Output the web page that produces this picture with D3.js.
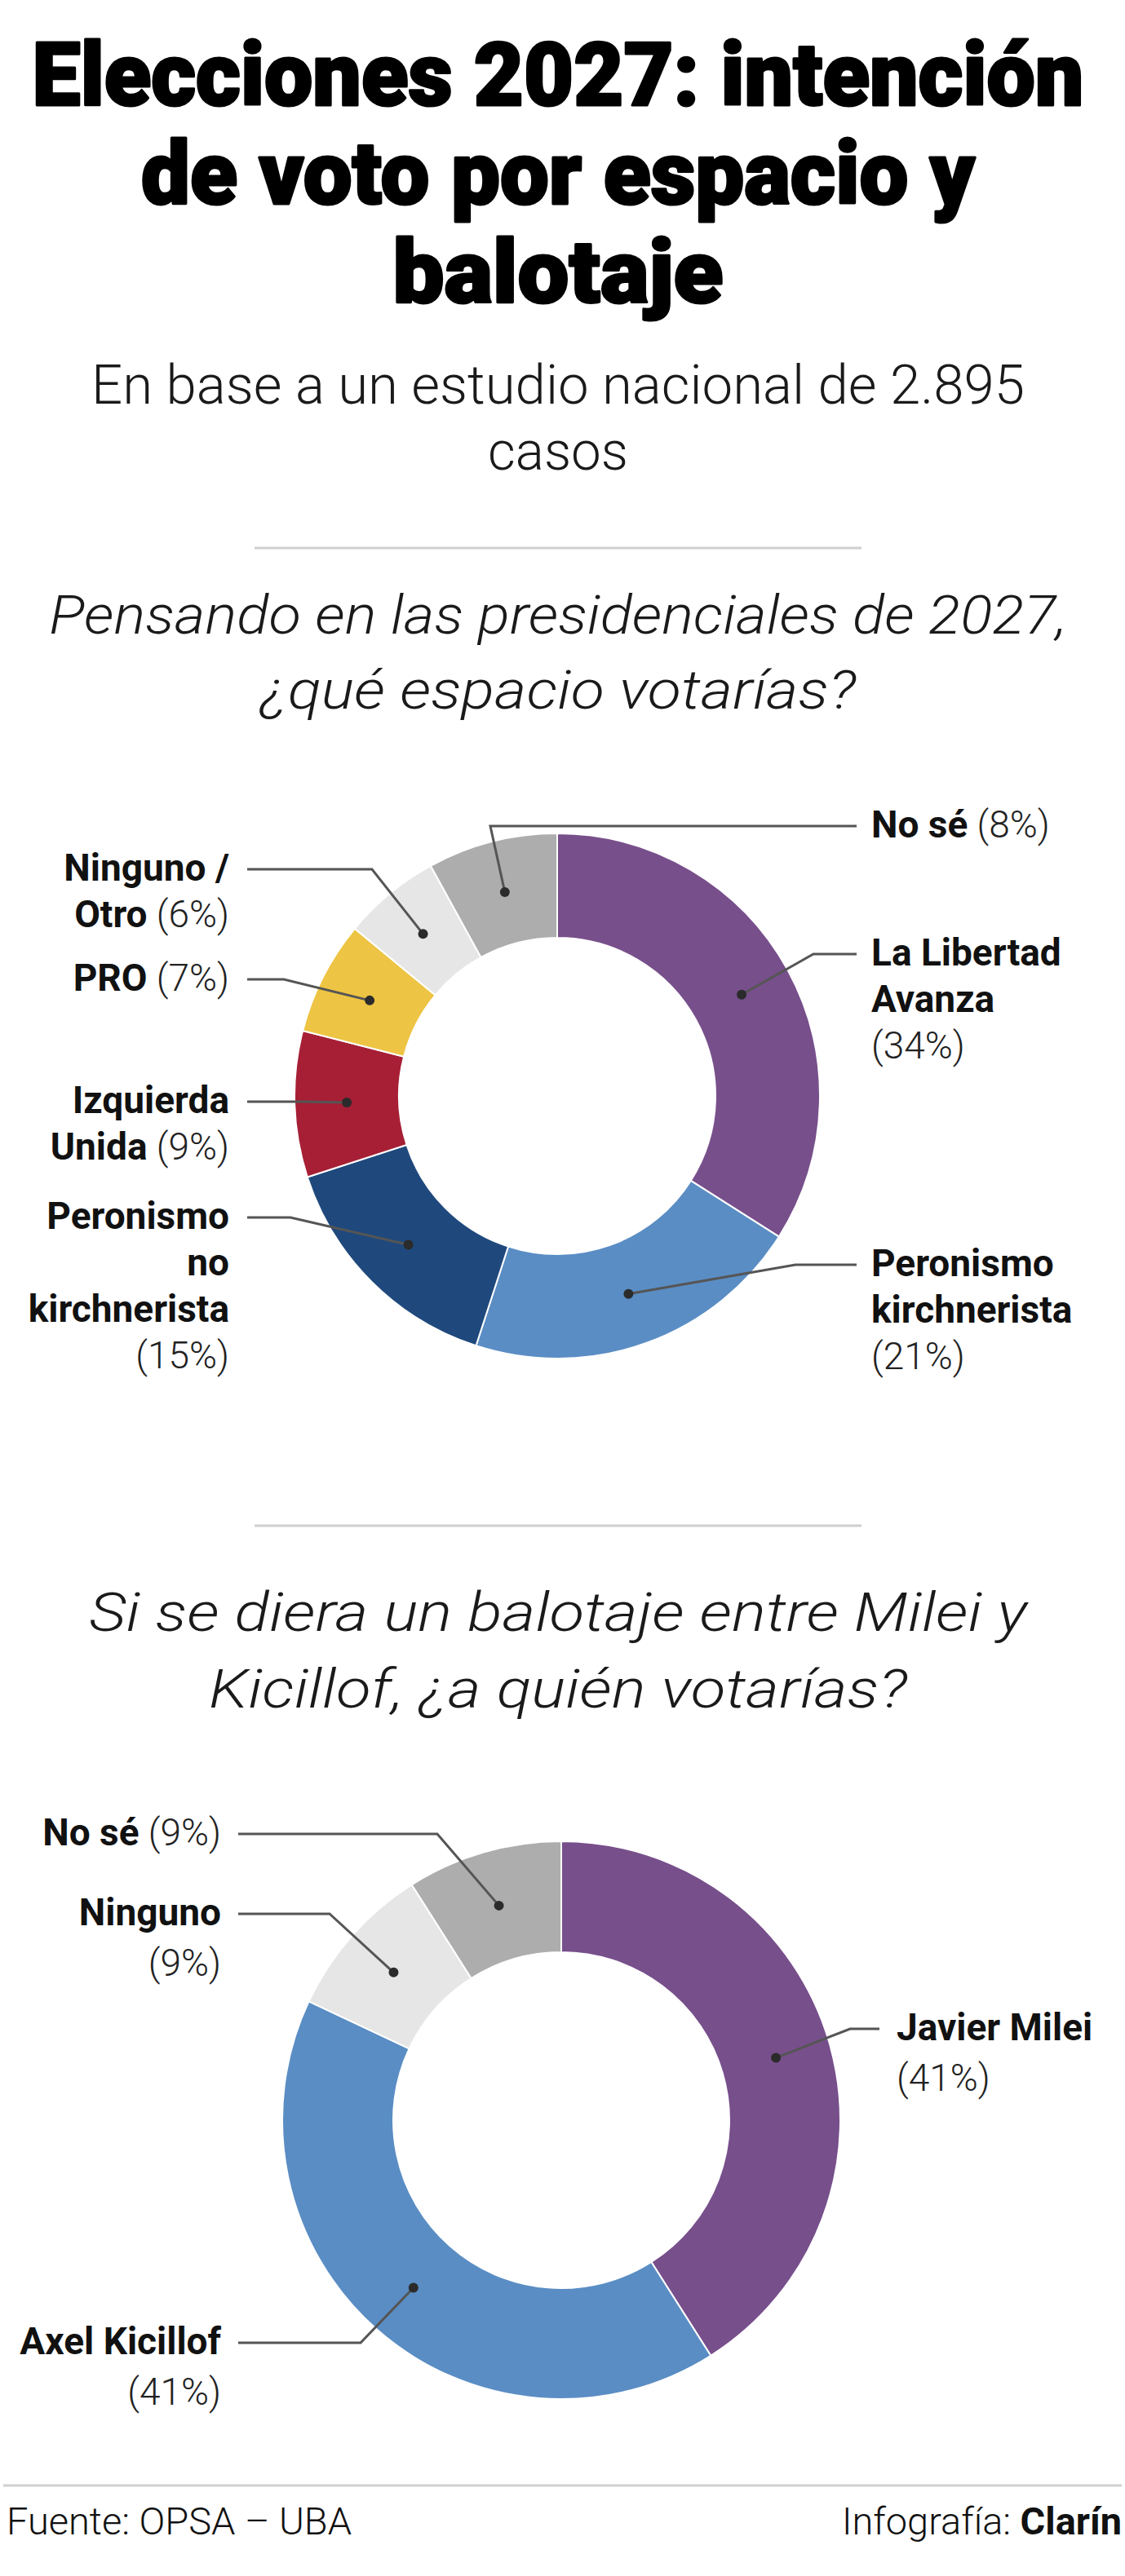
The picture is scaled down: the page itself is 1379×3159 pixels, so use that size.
<!DOCTYPE html>
<html>
<head>
<meta charset="utf-8">
<script src="https://cdn.jsdelivr.net/npm/d3@7"></script>
<style>
  body { margin: 0; background: #fff; }
  svg { display: block; }
  text { font-family: Roboto, "Open Sans", sans-serif; }
</style>
</head>
<body>
<svg id="chart"></svg>
<script>
var width = 1379;
var height = 3159;

// --- data ---
var espacios = ['La Libertad Avanza', 'Peronismo kirchnerista', 'Peronismo no kirchnerista',
  'Izquierda Unida', 'PRO', 'Ninguno / Otro', 'No sé'];
var espaciosPct = [34, 21, 15, 9, 7, 6, 8];

var candidatos = ['Javier Milei', 'Axel Kicillof', 'Ninguno', 'No sé'];
var candidatosPct = [41, 41, 9, 9];

var titulo = ['Elecciones 2027: intención', 'de voto por espacio y', 'balotaje'];
var bajada = ['En base a un estudio nacional de 2.895', 'casos'];
var pregunta1 = ['Pensando en las presidenciales de 2027,', '¿qué espacio votarías?'];
var pregunta2 = ['Si se diera un balotaje entre Milei y', 'Kicillof, ¿a quién votarías?'];
var fuente = 'Fuente: OPSA – UBA';

// --- styles ---
var espaciosColores = ['#774f8b', '#5a8dc4', '#1f497c', '#a61f35', '#edc443', '#e6e6e6', '#adadad'];
var candidatosColores = ['#774f8b', '#5a8dc4', '#e6e6e6', '#adadad'];

// label layout, same order as the data
var layout1 = {
  cx: 683, cy: 1344, outer: 322, inner: 194, lh: 57,
  textRight: 1068, lineRight: 1050, textLeft: 281, lineLeft: 303,
  labels: [
    {side: 'right', y: 1170, elbow: 997, lines: ['La Libertad', 'Avanza'], pctBreak: true},
    {side: 'right', y: 1551, elbow: 975, lines: ['Peronismo', 'kirchnerista'], pctBreak: true},
    {side: 'left', y: 1493, elbow: 356, lines: ['Peronismo', 'no', 'kirchnerista'], pctBreak: true},
    {side: 'left', y: 1351, elbow: 370, lines: ['Izquierda', 'Unida'], pctBreak: false},
    {side: 'left', y: 1201, elbow: 348, lines: ['PRO'], pctBreak: false},
    {side: 'left', y: 1066, elbow: 456, lines: ['Ninguno /', 'Otro'], pctBreak: false},
    {side: 'right', y: 1013, elbow: 601, lines: ['No sé'], pctBreak: false}
  ]
};

var layout2 = {
  cx: 688, cy: 2600, outer: 342, inner: 206, lh: 62,
  textRight: 1099, lineRight: 1078, textLeft: 271, lineLeft: 292,
  labels: [
    {side: 'right', y: 2488, elbow: 1042, lines: ['Javier Milei'], pctBreak: true},
    {side: 'left', y: 2873, elbow: 442, lines: ['Axel Kicillof'], pctBreak: true},
    {side: 'left', y: 2347, elbow: 404, lines: ['Ninguno'], pctBreak: true},
    {side: 'left', y: 2249, elbow: 536, lines: ['No sé'], pctBreak: false}
  ]
};

var svg = d3.select('#chart')
  .attr('width', width)
  .attr('height', height);

var midX = 684;

// block of centred lines, squeezed horizontally to the measured width
// (the original typeface is a condensed one)
function textBlock(lines, opts) {
  lines.forEach(function(line, i) {
    var y = opts.y + i * opts.lh;
    var g = svg.append('g');
    var t = g.append('text')
      .attr('x', 0)
      .attr('y', 0)
      .attr('text-anchor', 'middle')
      .attr('font-size', opts.size)
      .attr('font-weight', opts.weight)
      .attr('font-style', opts.style || 'normal')
      .attr('fill', opts.color)
      .text(line);
    if (opts.stroke) {
      // fatten the heading a bit, the original face is very heavy
      t.attr('stroke', opts.color)
        .attr('stroke-width', opts.stroke)
        .attr('stroke-linejoin', 'round');
    }
    var natural = t.node().getComputedTextLength();
    var sx = natural ? opts.widths[i] / natural : 1;
    g.attr('transform', 'translate(' + midX + ',' + y + ') scale(' + sx + ',1)');
  });
}

textBlock(titulo, {y: 129, lh: 121, size: 108, weight: 900, color: '#000', stroke: 3, widths: [1289, 1022, 405]});
textBlock(bajada, {y: 495, lh: 81, size: 66, weight: 300, color: '#1a1a1a', widths: [1144, 172]});
textBlock(pregunta1, {y: 777, lh: 92, size: 66, weight: 300, style: 'italic', color: '#1a1a1a', widths: [1248, 730]});
textBlock(pregunta2, {y: 2000, lh: 94, size: 66, weight: 300, style: 'italic', color: '#1a1a1a', widths: [1150, 856]});

// dividers
[672, 1871].forEach(function(y) {
  svg.append('line')
    .attr('x1', 312).attr('x2', 1056)
    .attr('y1', y).attr('y2', y)
    .attr('stroke', '#cfcfcf')
    .attr('stroke-width', 3);
});

function drawDonut(names, values, colors, cfg) {
  var data = names.map(function(name, i) {
    return {name: name, value: values[i], color: colors[i], label: cfg.labels[i]};
  });

  var pie = d3.pie().sort(null).value(function(d) { return d.value; });
  var arc = d3.arc().innerRadius(cfg.inner).outerRadius(cfg.outer);
  var arcs = pie(data);

  var g = svg.append('g')
    .attr('transform', 'translate(' + cfg.cx + ',' + cfg.cy + ')');

  g.selectAll('path.slice')
    .data(arcs)
    .join('path')
    .attr('class', 'slice')
    .attr('d', arc)
    .attr('fill', function(d) { return d.data.color; })
    .attr('stroke', '#fff')
    .attr('stroke-width', 2);

  var line = d3.line();

  arcs.forEach(function(a) {
    var L = a.data.label;
    var c = arc.centroid(a);
    var dot = [cfg.cx + c[0], cfg.cy + c[1]];
    var right = L.side === 'right';
    var lineEnd = right ? cfg.lineRight : cfg.lineLeft;

    svg.append('path')
      .attr('d', line([dot, [L.elbow, L.y], [lineEnd, L.y]]))
      .attr('fill', 'none')
      .attr('stroke', '#555')
      .attr('stroke-width', 3);

    svg.append('circle')
      .attr('cx', dot[0])
      .attr('cy', dot[1])
      .attr('r', 6)
      .attr('fill', '#2b2b2b');

    var t = svg.append('text')
      .attr('text-anchor', right ? 'start' : 'end')
      .attr('font-size', 46)
      .attr('fill', '#111');
    var tx = right ? cfg.textRight : cfg.textLeft;
    var pct = '(' + a.data.value + '%)';

    L.lines.forEach(function(s, i) {
      t.append('tspan')
        .attr('x', tx)
        .attr('y', L.y + 14 + i * cfg.lh)
        .attr('font-weight', 700)
        .text(s);
      if (i === L.lines.length - 1 && !L.pctBreak) {
        t.append('tspan')
          .attr('font-weight', 300)
          .attr('fill', '#222')
          .text(' ' + pct);
      }
    });
    if (L.pctBreak) {
      t.append('tspan')
        .attr('x', tx)
        .attr('y', L.y + 14 + L.lines.length * cfg.lh)
        .attr('font-weight', 300)
        .attr('fill', '#222')
        .text(pct);
    }
  });
}

drawDonut(espacios, espaciosPct, espaciosColores, layout1);
drawDonut(candidatos, candidatosPct, candidatosColores, layout2);

// footer
svg.append('line')
  .attr('x1', 4).attr('x2', 1375)
  .attr('y1', 3048).attr('y2', 3048)
  .attr('stroke', '#d0d0d0')
  .attr('stroke-width', 3);

svg.append('text')
  .attr('x', 8)
  .attr('y', 3108)
  .attr('font-size', 46)
  .attr('font-weight', 300)
  .attr('fill', '#111')
  .attr('textLength', 423)
  .attr('lengthAdjust', 'spacingAndGlyphs')
  .text(fuente);

var credito = svg.append('text')
  .attr('x', 1375)
  .attr('y', 3108)
  .attr('text-anchor', 'end')
  .attr('font-size', 46)
  .attr('fill', '#111')
  .attr('textLength', 343)
  .attr('lengthAdjust', 'spacingAndGlyphs');
credito.append('tspan').attr('font-weight', 300).text('Infografía: ');
credito.append('tspan').attr('font-weight', 700).text('Clarín');
</script>
</body>
</html>
